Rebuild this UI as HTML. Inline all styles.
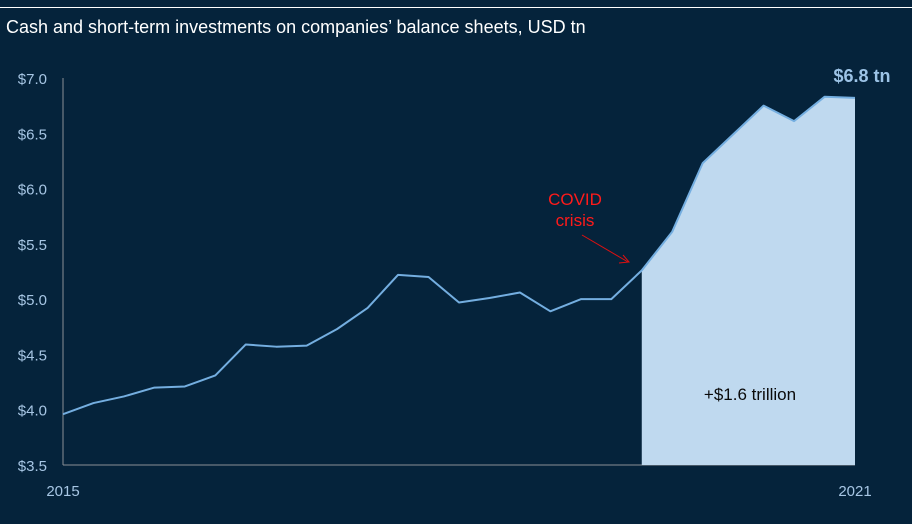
<!DOCTYPE html>
<html><head><meta charset="utf-8">
<style>
html,body{margin:0;padding:0;background:#05233b;}
body{width:912px;height:519px;overflow:hidden;font-family:"Liberation Sans",sans-serif;}
</style></head>
<body>
<svg width="912" height="519" viewBox="0 0 912 519" xmlns="http://www.w3.org/2000/svg">
<rect width="912" height="519" fill="#05233b"/>
<line x1="0" y1="7.5" x2="912" y2="7.5" stroke="#ffffff" stroke-width="1"/>
<text x="6" y="33" fill="#ffffff" font-size="18">Cash and short-term investments on companies’ balance sheets, USD tn</text>
<g id="axes"></g>
<g id="marks"></g>
<text x="575" y="205" fill="#ff1a1a" font-size="17" text-anchor="middle">COVID</text>
<text x="575" y="226" fill="#ff1a1a" font-size="17" text-anchor="middle">crisis</text>
<line x1="582" y1="235" x2="628" y2="262" stroke="#e01010" stroke-width="1"/>
<polyline points="619,263 629,262 623,255" fill="none" stroke="#e01010" stroke-width="1"/>
<text x="750" y="400" fill="#0a0a0a" font-size="17" text-anchor="middle">+$1.6 trillion</text>
<text x="862" y="82" fill="#9cc3e6" font-size="18" font-weight="bold" text-anchor="middle">$6.8 tn</text>
</svg>
<script>
const values = [3.96,4.06,4.12,4.20,4.21,4.31,4.59,4.57,4.58,4.73,4.92,5.22,5.20,4.97,5.01,5.06,4.89,5.00,5.00,5.26,5.61,6.23,6.49,6.75,6.61,6.83,6.82];
const yTicks = [3.5,4.0,4.5,5.0,5.5,6.0,6.5,7.0];
const xLabels = ["2015","2021"];
const covidIndex = 19;

const NS = "http://www.w3.org/2000/svg";
const x0 = 63, x1 = 855, yTop = 78, yBot = 465, vMin = 3.5, vMax = 7.0;
const xs = i => x0 + (x1 - x0) * i / (values.length - 1);
const ys = v => yBot - (v - vMin) / (vMax - vMin) * (yBot - yTop);
const axes = document.getElementById('axes');
const marks = document.getElementById('marks');
function mk(tag, attrs, parent){const e=document.createElementNS(NS,tag);for(const k in attrs)e.setAttribute(k,attrs[k]);parent.appendChild(e);return e;}

yTicks.forEach(t=>{
  const tx = mk('text',{x:47,y:ys(t)+6,fill:'#a7c6e4','font-size':15,'text-anchor':'end'},axes);
  
  
  tx.textContent = '$' + t.toFixed(1);
});
const ya = mk('line',{x1:x0,y1:yTop,x2:x0,y2:yBot,stroke:'#8a8f96','stroke-width':1},axes);


const xa = mk('line',{x1:x0,y1:yBot,x2:x1,y2:yBot,stroke:'#8a8f96','stroke-width':1},axes);


[[0,xLabels[0]],[values.length-1,xLabels[1]]].forEach(([i,l])=>{
  const tx = mk('text',{x:xs(i),y:496,fill:'#a7c6e4','font-size':15,'text-anchor':'middle'},axes);
  
  
  tx.textContent = l;
});

let ap = `M${xs(covidIndex)},${yBot}`;
for(let i=covidIndex;i<values.length;i++) ap += ` L${xs(i)},${ys(values[i])}`;
ap += ` L${xs(values.length-1)},${yBot} Z`;
const area = mk('path',{d:ap,fill:'#bfd9ef'},marks);



const line = mk('polyline',{points:values.map((v,i)=>xs(i)+','+ys(v)).join(' '),fill:'none',stroke:'#74aee0','stroke-width':2,'stroke-linejoin':'round'},marks);


</script>
</body></html>
